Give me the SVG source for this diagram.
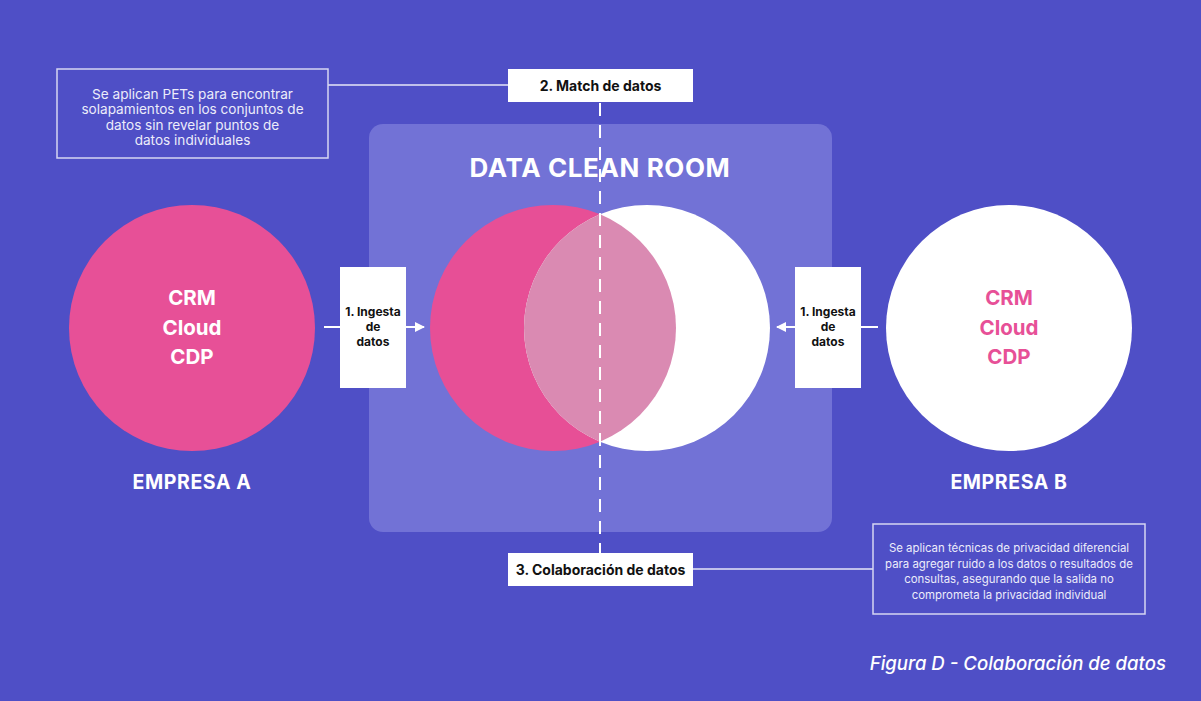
<svg xmlns="http://www.w3.org/2000/svg" width="1201" height="701" viewBox="0 0 1201 701">
<defs>
<style>
.t{font-family:Inter,"Noto Sans","Liberation Sans",sans-serif}
.b{font-weight:700}
.wh{fill:#ffffff}
.box{fill:#ffffff}
.note{fill:none;stroke:#d6d6f2;stroke-width:1.5}
.lbl{font-size:12px;fill:#111111;font-weight:700;text-anchor:middle}
.lbl2{font-size:14px;fill:#111111;font-weight:700;text-anchor:middle}
.nt{font-size:13.6px;fill:#ececfa;text-anchor:middle}
.nt2{font-size:11.4px;fill:#ececfa;text-anchor:middle}
.ln{stroke:#e6e6f7;stroke-width:1.5;fill:none}
.big{font-size:20.5px;text-anchor:middle}
.co{font-size:19.5px;text-anchor:middle;letter-spacing:0.6px}
</style>
<marker id="ah" viewBox="0 0 10 10" refX="9" refY="5" markerWidth="10" markerHeight="10" markerUnits="userSpaceOnUse" orient="auto"><path d="M0,0 L10,5 L0,10 z" fill="#ffffff"/></marker>
<clipPath id="pinkclip"><circle cx="553" cy="328" r="123"/></clipPath>
</defs>
<rect width="1201" height="701" fill="#4f4fc6"/>
<g id="cleanroom">
<rect x="369" y="124" width="463" height="408" rx="14" fill="#7272d6"/>
<text class="t b wh" x="600" y="177" font-size="26" text-anchor="middle" letter-spacing="0.6">DATA CLEAN ROOM</text>
</g>
<g id="venn">
<circle cx="553" cy="328" r="123" fill="#e74f96"/>
<circle cx="647" cy="328" r="123" fill="#ffffff"/>
<circle cx="647" cy="328" r="123" fill="#da8ab2" clip-path="url(#pinkclip)"/>
</g>
<g id="empresa-a">
<circle cx="192" cy="328" r="123" fill="#e75097"/>
<text class="t b wh big" x="192" y="305">CRM</text>
<text class="t b wh big" x="192" y="335">Cloud</text>
<text class="t b wh big" x="192" y="364">CDP</text>
<text class="t b wh co" x="192" y="489">EMPRESA A</text>
</g>
<g id="empresa-b">
<circle cx="1009" cy="328" r="123" fill="#ffffff"/>
<text class="t b big" x="1009" y="305" fill="#e75097">CRM</text>
<text class="t b big" x="1009" y="335" fill="#e75097">Cloud</text>
<text class="t b big" x="1009" y="364" fill="#e75097">CDP</text>
<text class="t b wh co" x="1009" y="489">EMPRESA B</text>
</g>
<g id="connectors">
<line x1="600" y1="103" x2="600" y2="553" stroke="#ffffff" stroke-width="2" stroke-dasharray="13,9"/>
<line class="ln" x1="328" y1="85" x2="508" y2="85"/>
<line class="ln" x1="693" y1="569" x2="873" y2="569"/>
<line x1="324" y1="327" x2="340" y2="327" stroke="#ffffff" stroke-width="2"/>
<line x1="406" y1="327" x2="424" y2="327" stroke="#ffffff" stroke-width="2" marker-end="url(#ah)"/>
<line x1="878" y1="327" x2="861" y2="327" stroke="#ffffff" stroke-width="2"/>
<line x1="795" y1="327" x2="777" y2="327" stroke="#ffffff" stroke-width="2" marker-end="url(#ah)"/>
</g>
<g id="ingesta-a">
<rect class="box" x="340" y="267" width="66" height="121"/>
<text class="t lbl" x="373" y="316">1. Ingesta</text>
<text class="t lbl" x="373" y="331">de</text>
<text class="t lbl" x="373" y="346">datos</text>
</g>
<g id="ingesta-b">
<rect class="box" x="795" y="267" width="66" height="121"/>
<text class="t lbl" x="828" y="316">1. Ingesta</text>
<text class="t lbl" x="828" y="331">de</text>
<text class="t lbl" x="828" y="346">datos</text>
</g>
<g id="match">
<rect class="box" x="508" y="69" width="185" height="33"/>
<text class="t lbl2" x="600.5" y="90.5">2. Match de datos</text>
</g>
<g id="colaboracion">
<rect class="box" x="508" y="553" width="185" height="33"/>
<text class="t lbl2" x="600.5" y="574.5">3. Colaboración de datos</text>
</g>
<g id="note-pets">
<rect class="note" x="57" y="69" width="271" height="89"/>
<text class="t nt" x="192.5" y="98.5">Se aplican PETs para encontrar</text>
<text class="t nt" x="192.5" y="114">solapamientos en los conjuntos de</text>
<text class="t nt" x="192.5" y="129.5">datos sin revelar puntos de</text>
<text class="t nt" x="192.5" y="145">datos individuales</text>
</g>
<g id="note-privacidad">
<rect class="note" x="873" y="524" width="272" height="90"/>
<text class="t nt2" x="1009" y="552">Se aplican técnicas de privacidad diferencial</text>
<text class="t nt2" x="1009" y="567.5">para agregar ruido a los datos o resultados de</text>
<text class="t nt2" x="1009" y="583">consultas, asegurando que la salida no</text>
<text class="t nt2" x="1009" y="598.5">comprometa la privacidad individual</text>
</g>
<text class="t wh" x="1166" y="670" font-size="18.6" font-weight="500" font-style="italic" text-anchor="end">Figura D - Colaboración de datos</text>
</svg>
